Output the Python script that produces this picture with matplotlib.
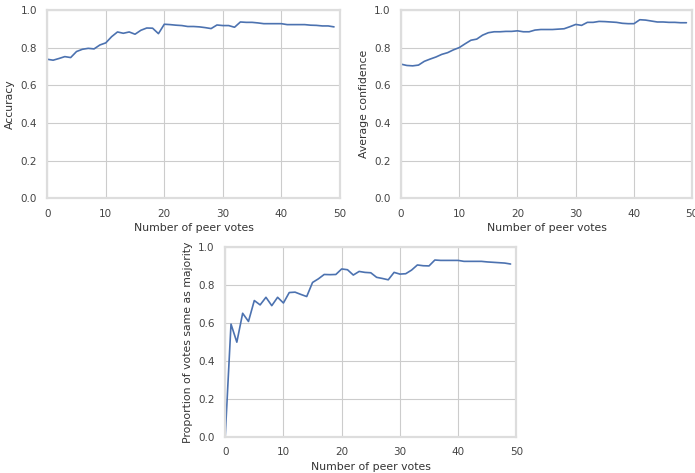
import matplotlib
matplotlib.use("Agg")
import matplotlib.pyplot as plt
import numpy as np
import seaborn as sns

sns.set_style("whitegrid")

votes = np.arange(50)

accuracy = [0.738, 0.733, 0.742, 0.752, 0.747, 0.779, 0.791, 0.796, 0.793, 0.814,
            0.825, 0.858, 0.883, 0.876, 0.883, 0.871, 0.892, 0.904, 0.903, 0.874,
            0.924, 0.922, 0.919, 0.917, 0.912, 0.912, 0.910, 0.906, 0.901, 0.920,
            0.917, 0.917, 0.908, 0.936, 0.934, 0.934, 0.931, 0.927, 0.927, 0.927,
            0.927, 0.922, 0.922, 0.922, 0.922, 0.919, 0.918, 0.915, 0.915, 0.910]

confidence = [0.712, 0.705, 0.703, 0.707, 0.727, 0.739, 0.750, 0.764, 0.773, 0.788,
              0.800, 0.820, 0.839, 0.845, 0.866, 0.879, 0.884, 0.884, 0.886, 0.886,
              0.889, 0.884, 0.884, 0.893, 0.896, 0.896, 0.896, 0.898, 0.900, 0.911,
              0.923, 0.918, 0.934, 0.934, 0.939, 0.938, 0.936, 0.934, 0.929, 0.927,
              0.927, 0.948, 0.946, 0.941, 0.936, 0.936, 0.934, 0.934, 0.932, 0.932]

majority = [0.0, 0.594, 0.499, 0.651, 0.608, 0.718, 0.695, 0.735, 0.691, 0.735,
            0.705, 0.760, 0.762, 0.750, 0.739, 0.813, 0.832, 0.855, 0.854, 0.855,
            0.884, 0.880, 0.852, 0.871, 0.866, 0.864, 0.840, 0.834, 0.827, 0.866,
            0.857, 0.859, 0.878, 0.905, 0.901, 0.900, 0.931, 0.929, 0.929, 0.929,
            0.929, 0.924, 0.924, 0.924, 0.924, 0.921, 0.919, 0.917, 0.915, 0.910]

fig = plt.figure(figsize=(6.95, 4.73), dpi=100)

# axes placed by hand: two on top, one centred below
positions = [[0.068, 0.581, 0.421, 0.398],
             [0.577, 0.581, 0.419, 0.398],
             [0.324, 0.076, 0.419, 0.402]]
series = [accuracy, confidence, majority]
ylabels = ["Accuracy", "Average confidence", "Proportion of votes same as majority"]

for pos, y, lab in zip(positions, series, ylabels):
    ax = fig.add_axes(pos)
    ax.plot(votes, y, color="#4c72b0", linewidth=1.2)
    ax.set_xlim(0, 50)
    ax.set_ylim(0, 1.0)
    ax.set_xticks([0, 10, 20, 30, 40, 50])
    ax.set_yticks([0.0, 0.2, 0.4, 0.6, 0.8, 1.0])
    ax.tick_params(labelsize=7.5, colors="#444444", pad=4)
    ax.set_xlabel("Number of peer votes", fontsize=7.8, color="#333333", labelpad=3)
    ax.set_ylabel(lab, fontsize=7.8, color="#333333", labelpad=4)
    for s in ax.spines.values():
        s.set_color("#dddddd")
        s.set_linewidth(1.6)
    ax.grid(color="#cccccc", linewidth=0.8)

fig.savefig("out.png", dpi=100)
